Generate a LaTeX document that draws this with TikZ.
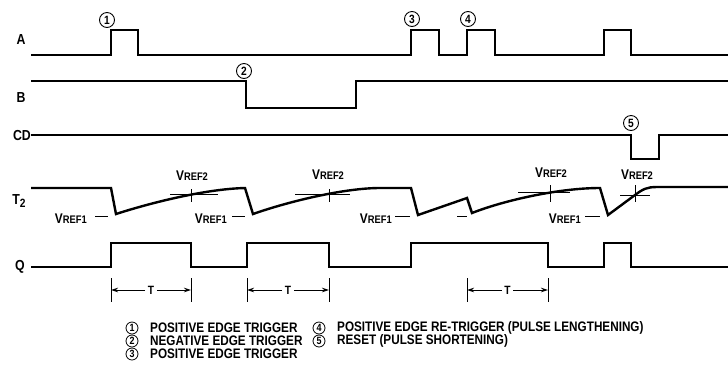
\documentclass[tikz,border=0pt]{standalone}
\usepackage{fontspec}
\setmainfont{Liberation Sans}[FakeStretch=0.85]
\usetikzlibrary{arrows.meta}
\newcommand\myvref[1]{V{\fontsize{11}{11}\selectfont REF#1}}
\begin{document}
\begin{tikzpicture}[x=1pt,y=-1pt,
  sig/.style={line width=2.4pt, line join=miter},
  fine/.style={line width=0.9pt},
  lbl/.style={font=\fontsize{14.5}{14.5}\selectfont\bfseries, inner sep=0pt},
  vr/.style={font=\fontsize{14}{14}\selectfont\bfseries, inner sep=0pt},
  num/.style={circle, draw, line width=0.9pt, minimum size=15pt, inner sep=0pt, fill=white, font=\fontsize{12}{12}\selectfont\bfseries},
  lnum/.style={circle, draw, line width=0.8pt, minimum size=12pt, inner sep=0pt, font=\fontsize{10.5}{10.5}\selectfont\bfseries},
  leg/.style={font=\fontsize{13.8}{13.8}\selectfont\bfseries, anchor=west, inner sep=0pt},
  tick/.style={fine}
]
\useasboundingbox (0,0) rectangle (728,376);
% signal labels
\node[lbl] (lA) at (21,40) {A};
\node[lbl] (lB) at (21,98) {B};
\node[lbl] (lC) at (22,136) {CD};
\node[lbl] (lT) at (19,201) {T\raisebox{-2.5pt}{\fontsize{12}{12}\selectfont 2}};
\node[lbl] (lQ) at (20,267) {Q};
% A
\draw[sig] (31,55) -- (111,55) -- (111,30) -- (138,30) -- (138,55) -- (411,55) -- (411,30) -- (439,30) -- (439,55) -- (467,55) -- (467,30) -- (495,30) -- (495,55) -- (604,55) -- (604,30) -- (631,30) -- (631,55) -- (728,55);
% B
\draw[sig] (31,81) -- (246,81) -- (246,108) -- (356,108) -- (356,81) -- (728,81);
% CD
\draw[sig] (31,135) -- (631,135) -- (631,159) -- (659,159) -- (659,135) -- (728,135);
% T2
\draw[sig] (31,188) -- (111,188) -- (116,214) .. controls (150,203) and (205,189) .. (245,188)
  -- (253,214) .. controls (290,201) and (345,188) .. (380,188) -- (411,188)
  -- (418,215) -- (467,198) -- (472,213) .. controls (505,200) and (560,188) .. (600,188)
  -- (608,215) -- (635,195) .. controls (643,189) and (647,187) .. (657,187) -- (728,187);
% Q
\draw[sig] (31,267) -- (111,267) -- (111,243) -- (191,243) -- (191,267) -- (247,267) -- (247,243) -- (329,243) -- (329,267) -- (411,267) -- (411,243) -- (548,243) -- (548,267) -- (604,267) -- (604,243) -- (631,243) -- (631,267) -- (728,267);
% numbered circles
\node[num] (n1) at (107,20) {1};
\node[num] (n2) at (244,71) {2};
\node[num] (n3) at (412,19) {3};
\node[num] (n4) at (468,19) {4};
\node[num] (n5) at (631,123) {5};
% VREF2 crosses
\draw[fine] (170,194) -- (218,194) (191,189) -- (191,202);
\draw[fine] (295,194) -- (350,194) (329,189) -- (329,202);
\draw[fine] (518,192) -- (570,192) (550,185) -- (550,202);
\draw[fine] (620,195) -- (650,195) (635,185) -- (635,202);
\node[vr] (r2a) at (192,176) {\myvref2};
\node[vr] (r2b) at (328,175) {\myvref2};
\node[vr] (r2c) at (551,173) {\myvref2};
\node[vr] (r2d) at (637,175) {\myvref2};
% VREF1 labels
\node[vr, anchor=east] (r1a) at (87,219) {\myvref1};
\node[vr, anchor=east] (r1b) at (227,219) {\myvref1};
\node[vr, anchor=east] (r1c) at (392,219) {\myvref1};
\node[vr, anchor=east] (r1d) at (581,219) {\myvref1};
\draw[fine] (95,216) -- (108,216);
\draw[fine] (232,216) -- (245,216);
\draw[fine] (395,216) -- (410,216);
\draw[fine] (457,216) -- (467,216);
\draw[fine] (585,216) -- (600,216);
% T dimensions
\foreach \a/\b/\i in {111/191/1, 247/329/2, 467/548/3}{
  \draw[tick] (\a,278) -- (\a,302) (\b,278) -- (\b,302);
  \node[font=\fontsize{12}{12}\selectfont\bfseries, fill=white, inner sep=2.5pt] (t\i) at ({(\a+\b)/2},290) {T};
  \draw[fine, -{Stealth[length=7pt,width=4.5pt]}] (t\i.west) -- (\a,290);
  \draw[fine, -{Stealth[length=7pt,width=4.5pt]}] (t\i.east) -- (\b,290);
}
% legend
\node[lnum] (c1) at (132,328) {1};
\node[lnum] (c2) at (132,341) {2};
\node[lnum] (c3) at (132,354) {3};
\node[lnum] (c4) at (319,328) {4};
\node[lnum] (c5) at (319,341) {5};
\node[leg] (g1) at (150,328) {POSITIVE EDGE TRIGGER};
\node[leg] (g2) at (150,341) {NEGATIVE EDGE TRIGGER};
\node[leg] (g3) at (150,354) {POSITIVE EDGE TRIGGER};
\node[leg] (g4) at (337,328) {POSITIVE EDGE RE-TRIGGER (PULSE LENGTHENING)};
\node[leg] (g5) at (337,341) {RESET (PULSE SHORTENING)};
\end{tikzpicture}
\end{document}
